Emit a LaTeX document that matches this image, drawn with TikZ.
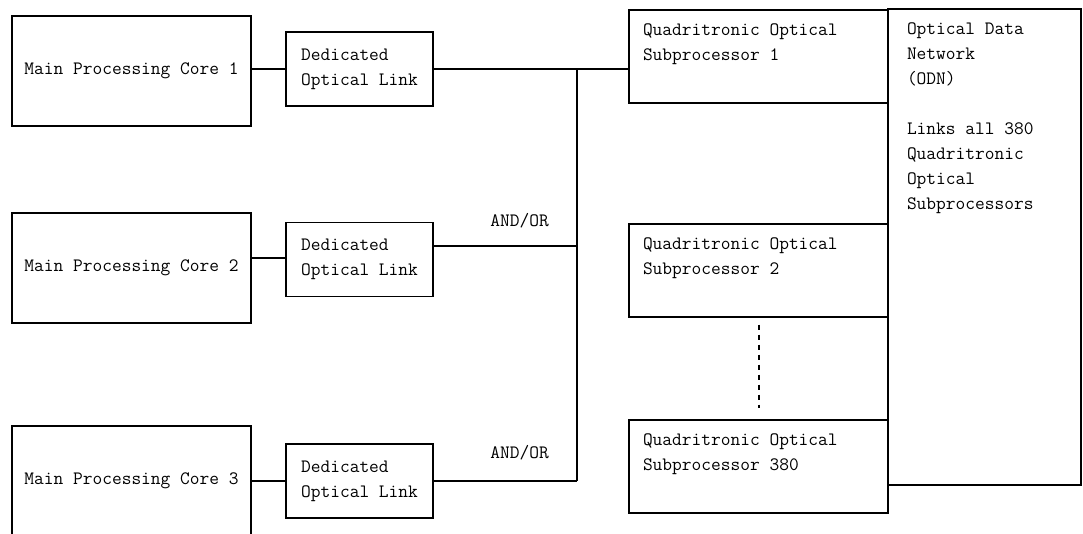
\documentclass[tikz,border=0pt]{standalone}
\usepackage{fontspec}
\usepackage{tikz}

\tikzset{
  corebox/.style={draw, line width=1.3pt, minimum width=239pt, minimum height=110pt},
  linkbox/.style={draw, line width=1.3pt, minimum width=147pt, minimum height=74pt, align=left},
  subbox/.style={draw, line width=1.3pt, inner xsep=14pt, inner ysep=14pt},
  odnbox/.style={draw, line width=1.3pt, inner xsep=19pt, inner ysep=14pt},
}
\newcommand{\subtext}[1]{\parbox[c][65pt][t]{231pt}{#1}}

\begin{document}
\begin{tikzpicture}[x=1pt, y=-1pt, line width=1.3pt, font=\ttfamily\fontsize{18.9}{25}\selectfont]
    \useasboundingbox (0,0) rectangle (1083,534);
    \node[corebox] (core1) at (131.5,71) {Main Processing Core 1};
    \node[corebox] (core2) at (131.5,268) {Main Processing Core 2};
    \node[corebox] (core3) at (131.5,481) {Main Processing Core 3};
    \node[linkbox] (link1) at (359.5,69) {Dedicated\\Optical Link};
    \node[linkbox] (link2) at (359.5,259.5) {Dedicated\\Optical Link};
    \node[linkbox] (link3) at (359.5,481) {Dedicated\\Optical Link};
    \node[subbox] (qos1) at (758.5,56.5) {\subtext{Quadritronic Optical\\Subprocessor 1}};
    \node[subbox] (qos2) at (758.5,270.5) {\subtext{Quadritronic Optical\\Subprocessor 2}};
    \node[subbox] (qos380) at (758.5,466.5) {\subtext{Quadritronic Optical\\Subprocessor 380}};
    \node[odnbox] (odn) at (984.5,247) {\parbox[c][448pt][t]{155pt}{Optical Data\\Network\\(ODN)\\[25pt]Links all 380\\Quadritronic\\Optical\\Subprocessors}};
    \coordinate (bus) at (577,0);
    \draw (core1.east |- link1.west) -- (link1.west);
    \draw ([yshift=1.5pt]core2.east |- link2.west) -- ([yshift=1.5pt]link2.west);
    \draw (core3.east) -- (link3.west);
    \draw (link1.east) -- (link1.east -| qos1.west);
    \draw ([yshift=13.5pt]link2.east) -- ([yshift=13.5pt]link2.east -| bus) node[pos=0.6, yshift=25pt] (andor2) {AND/OR};
    \draw (link3.east) -- (link3.east -| bus) node[pos=0.6, yshift=28pt] (andor3) {AND/OR};
    \draw (link1.east -| bus) -- (link3.east -| bus);
    \draw[line width=2pt, dash pattern=on 5pt off 5pt] ([yshift=-7pt]qos2.south) -- ([yshift=11pt]qos380.north);
\end{tikzpicture}
\end{document}
